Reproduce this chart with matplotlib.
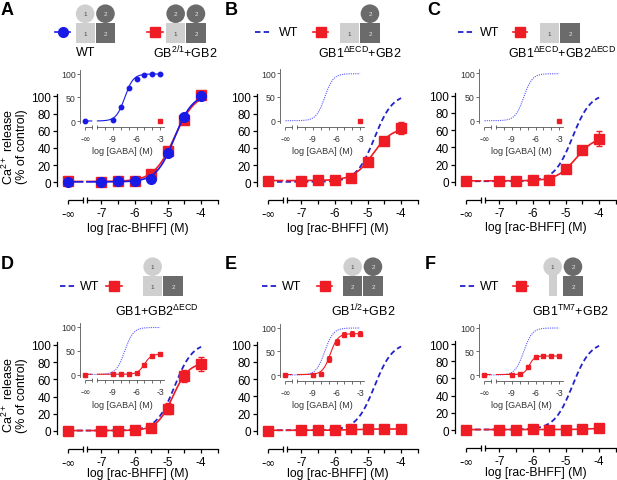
import numpy as np
import matplotlib
matplotlib.use("Agg")
import matplotlib.pyplot as plt
from matplotlib.patches import Circle, Rectangle

plt.rcParams['font.family'] = ['Liberation Sans', 'DejaVu Sans']
plt.rcParams['axes.unicode_minus'] = False

W, H = 617, 481
RED = '#ee1c24'
BLUE = '#1a1ae6'
WT_DASH = '#2222cc'
LIGHT = '#cfcfcf'
DARK = '#6b6b6b'

# -inf is plotted at these positions
NEG_INF_MAIN = -8.0
NEG_INF_INSET = -12.5

# rac-BHFF concentrations (log M), first entry = -inf
bhff_x = [NEG_INF_MAIN, -7, -6.5, -6, -5.5, -5, -4.5, -4]
# GABA concentrations (log M), first entry = -inf
gaba_x = [NEG_INF_INSET, -9, -8, -7, -6, -5, -4, -3]

# main data (% of control)
wt_main = [0.5, 0.5, 1, 1.5, 4, 34, 76, 100]
gb21_main = [1, 0.5, 1, 2, 10, 36, 72, 102]
b_main = [1, 1.5, 2.5, 2.5, 4.5, 24, 48, 63]
b_err = [1, 1, 1.5, 1.5, 1.5, 3, 4, 7]
c_main = [0.5, 0.5, 1, 1.5, 1.5, 15, 37, 50]
c_err = [0.5, 0.5, 0.5, 1, 1, 2, 5, 9]
d_main = [0, 0.5, 0.5, 1, 3.5, 26, 64, 78]
d_err = [0.5, 0.5, 0.5, 0.5, 1, 6, 7, 8]
e_main = [0, 0.5, 1, 1, 1.5, 2, 1.5, 1.5]
e_err = [0.5, 0.5, 0.5, 0.5, 0.5, 0.5, 0.5, 0.5]
f_main = [0.5, 0.5, 0.5, 1, 0.5, 0.5, 1, 2]
f_err = [0.5, 0.5, 0.5, 0.5, 0.5, 0.5, 0.5, 0.5]

# inset data (GABA response)
wt_inset = [0, 3, 30, 70, 89, 96, 98, 99]
gaba_max_x = [-3]
gaba_max_y = [0]
d_inset = [0, 1, 1, 1, 4, 19, 40, 43]
d_inset_err = [0.5, 0.5, 0.5, 0.5, 1, 3, 4, 4]
e_inset = [1, 1, 3, 34, 69, 85, 87, 87]
e_inset_err = [0.5, 0.5, 1, 6, 6, 6, 5, 5]
f_inset = [1, 1, 1.5, 16, 38, 41, 41, 41]
f_inset_err = [0.5, 0.5, 0.5, 2, 3, 3, 3, 3]

# Hill fits: bottom, top, logEC50, slope
fit_wt = (0.5, 103, -4.8, 1.6)
fit_gb21 = (1, 104, -4.8, 1.4)
fit_b = (2, 64, -4.85, 1.5)
fit_c = (1, 53, -4.7, 1.5)
fit_d = (0.5, 80, -4.85, 1.8)
fit_e = (0.5, 2, -5.5, 1.5)
fit_f = (0.5, 2.5, -4.2, 1.5)
fit_wt_gaba = (0, 99, -7.5, 0.8)
fit_d_gaba = (0.5, 43, -5.0, 1.0)
fit_e_gaba = (1, 87, -6.8, 0.9)
fit_f_gaba = (1, 40, -6.8, 1.3)


def hill(x, p):
    bot, top, ec, n = p
    return bot + (top - bot) / (1 + 10 ** (n * (ec - x)))


def fit_xy(p, x0, x1, gap):
    x = np.linspace(x0, x1, 300)
    y = hill(x, p)
    y[(x > gap[0]) & (x < gap[1])] = np.nan
    return x, y


fig = plt.figure(figsize=(W / 100, H / 100), dpi=100)


def px_axes(left, top, w, h):
    return fig.add_axes([left / W, 1 - (top + h) / H, w / W, h / H])


MX = (-8.34, -3.45)
MY = (-21, 106)
MAIN_GAP = (-7.57, -7.45)
IX = (-13.2, -2.4)
IY = (-12.5, 110)
INSET_GAP = (-11.7, -11.0)


def wide_inf(ax):
    # the infinity sign of DejaVu is wider, closer to the original
    for lbl in ax.get_xticklabels():
        if '∞' in lbl.get_text():
            lbl.set_fontfamily('DejaVu Sans')


def main_axes(spine_x, zero_y, ylabel=False, xlabelpad=1):
    ax = px_axes(spine_x, zero_y - 106 * 0.86, 4.89 * 33.2, 127 * 0.86)
    ax.set_xlim(*MX)
    ax.set_ylim(*MY)
    ax.patch.set_alpha(0)
    for s in ['top', 'right']:
        ax.spines[s].set_visible(False)
    ax.spines['left'].set_bounds(-4, 103)
    ax.spines['bottom'].set_bounds(MAIN_GAP[1], -3.5)
    for s in ['left', 'bottom']:
        ax.spines[s].set_linewidth(0.9)
    ax.set_yticks([0, 20, 40, 60, 80, 100])
    ax.set_xticks([NEG_INF_MAIN, -7, -6, -5, -4])
    ax.set_xticklabels(['-∞', '-7', '-6', '-5', '-4'])
    ax.set_xticks([-6.5, -5.5, -4.5, -3.5], minor=True)
    ax.tick_params(which='both', direction='out', length=3, width=0.9,
                   labelsize=8.5, pad=1.5)
    ax.tick_params(axis='x', which='both', pad=2)
    wide_inf(ax)
    ax.plot([NEG_INF_MAIN, MAIN_GAP[0]], [MY[0], MY[0]], color='black',
            lw=0.9, clip_on=False, solid_capstyle='butt')
    ax.plot(list(MAIN_GAP), [MY[0], MY[0]], ls='none', marker='|', ms=5,
            mew=0.9, color='black', clip_on=False)
    ax.set_xlabel('log [rac-BHFF] (M)', fontsize=8.8, labelpad=xlabelpad)
    if ylabel:
        ax.set_ylabel('Ca$^{\\mathregular{2+}}$ release\n(% of control)',
                      fontsize=9, labelpad=2, linespacing=1.0)
    return ax


def inset_axes(spine_x, zero_y):
    ax = px_axes(spine_x, zero_y - 110 * 0.475, 10.8 * 7.85, 122.5 * 0.475)
    ax.set_xlim(*IX)
    ax.set_ylim(*IY)
    ax.patch.set_alpha(0)
    for s in ['top', 'right']:
        ax.spines[s].set_visible(False)
    ax.spines['left'].set_bounds(-5, 108)
    ax.spines['bottom'].set_bounds(INSET_GAP[1], -2.5)
    for s in ['left', 'bottom']:
        ax.spines[s].set_linewidth(0.6)
        ax.spines[s].set_color('#555555')
    ax.set_yticks([0, 50, 100])
    ax.set_xticks([NEG_INF_INSET, -9, -6, -3])
    ax.set_xticklabels(['-∞', '-9', '-6', '-3'])
    ax.set_xticks([-10, -8, -7, -5, -4], minor=True)
    ax.tick_params(which='both', direction='out', length=2, width=0.6,
                   color='#555555', labelsize=6.3, pad=1.2, labelcolor='#333333')
    ax.tick_params(axis='x', which='both', pad=3)
    wide_inf(ax)
    ax.plot([NEG_INF_INSET, INSET_GAP[0]], [IY[0], IY[0]], color='#555555',
            lw=0.6, clip_on=False, solid_capstyle='butt')
    ax.plot(list(INSET_GAP), [IY[0], IY[0]], ls='none', marker='|', ms=3.5,
            mew=0.6, color='#555555', clip_on=False)
    ax.set_xlabel('log [GABA] (M)', fontsize=6.5, labelpad=2.5, color='#333333')
    return ax


def wt_dashed(ax):
    x, y = fit_xy(fit_wt, NEG_INF_MAIN, -4, (0, 0))
    ax.plot(x, y, color=WT_DASH, lw=1.3, dashes=(3, 1.8), zorder=3)


def wt_dotted(ax):
    x, y = fit_xy(fit_wt_gaba, NEG_INF_INSET, -3, (0, 0))
    ax.plot(x, y, color='#5a5aff', lw=0.8, ls=(0, (1, 1)), zorder=2)


def red_main(ax, yv, err, p):
    x, y = fit_xy(p, NEG_INF_MAIN, -4, MAIN_GAP)
    ax.plot(x, y, color=RED, lw=1.2, zorder=4)
    ax.errorbar(bhff_x, yv, yerr=err, fmt='s', color=RED, ms=7, capsize=2.5,
                elinewidth=1, capthick=1, zorder=5, clip_on=False)


def red_inset(ax, yv, err, p):
    x, y = fit_xy(p, NEG_INF_INSET, -3, INSET_GAP)
    ax.plot(x, y, color=RED, lw=0.8, zorder=4)
    ax.errorbar(gaba_x, yv, yerr=err, fmt='s', color=RED, ms=3.2, capsize=1.5,
                elinewidth=0.7, capthick=0.7, zorder=5, clip_on=False)


# ---- A
ax = main_axes(57, 183.3, ylabel=True)
x, y = fit_xy(fit_gb21, NEG_INF_MAIN, -4, MAIN_GAP)
ax.plot(x, y, color=RED, lw=1.2, zorder=3)
ax.plot(bhff_x, gb21_main, 's', color=RED, ms=7, zorder=4, clip_on=False)
x, y = fit_xy(fit_wt, NEG_INF_MAIN, -4, MAIN_GAP)
ax.plot(x, y, color=BLUE, lw=1.2, zorder=5)
ax.plot(bhff_x, wt_main, 'o', color=BLUE, ms=7, zorder=6, clip_on=False)
ia = inset_axes(80, 122)
x, y = fit_xy(fit_wt_gaba, NEG_INF_INSET, -3, INSET_GAP)
ia.plot(x, y, color=BLUE, lw=0.8)
ia.plot(gaba_x, wt_inset, 'o', color=BLUE, ms=3.2, clip_on=False)
ia.plot(gaba_max_x, gaba_max_y, 's', color=RED, ms=3.2, clip_on=False)

# ---- B
ax = main_axes(257, 183.3)
wt_dashed(ax)
red_main(ax, b_main, b_err, fit_b)
ia = inset_axes(280, 121.7)
wt_dotted(ia)
ia.plot(gaba_max_x, gaba_max_y, 's', color=RED, ms=3.2, clip_on=False)

# ---- C
ax = main_axes(455, 182.7)
wt_dashed(ax)
red_main(ax, c_main, c_err, fit_c)
ia = inset_axes(479, 121.7)
wt_dotted(ia)
ia.plot(gaba_max_x, gaba_max_y, 's', color=RED, ms=3.2, clip_on=False)

# ---- D
ax = main_axes(57, 432, ylabel=True, xlabelpad=-1.5)
wt_dashed(ax)
red_main(ax, d_main, d_err, fit_d)
ia = inset_axes(80, 375.5)
wt_dotted(ia)
red_inset(ia, d_inset, d_inset_err, fit_d_gaba)

# ---- E
ax = main_axes(257, 431.7, xlabelpad=-1.5)
wt_dashed(ax)
red_main(ax, e_main, e_err, fit_e)
ia = inset_axes(280, 376)
wt_dotted(ia)
red_inset(ia, e_inset, e_inset_err, fit_e_gaba)

# ---- F
ax = main_axes(455, 431, xlabelpad=-1.5)
wt_dashed(ax)
red_main(ax, f_main, f_err, fit_f)
ia = inset_axes(479, 376)
wt_dotted(ia)
red_inset(ia, f_inset, f_inset_err, fit_f_gaba)

# ---- overlay: letters, legends, receptor cartoons (pixel coordinates)
ov = fig.add_axes([0, 0, 1, 1])
ov.set_xlim(0, W)
ov.set_ylim(H, 0)
ov.axis('off')
ov.patch.set_alpha(0)

SQ = 19.3
R = 9.3


def cartoon(left, top, squares, circles, stem=None):
    for i, kind in enumerate(squares):
        x0 = left + i * (SQ + 1)
        if kind is None:
            continue
        col = LIGHT if kind == '1' else DARK
        ov.add_patch(Rectangle((x0, top), SQ, SQ + 0.5, color=col, lw=0))
        ov.text(x0 + SQ / 2, top + SQ / 2 + 0.5, kind, fontsize=4.5,
                ha='center', va='center',
                color='#444444' if kind == '1' else '#e6e6e6')
    if stem is not None:
        cx = left + stem * (SQ + 1) + SQ / 2
        ov.add_patch(Rectangle((cx - 4, top - 2), 8, SQ + 2.5, color=LIGHT, lw=0))
    for i, kind in enumerate(circles):
        if kind is None:
            continue
        cx = left + i * (SQ + 1) + SQ / 2
        col = LIGHT if kind == '1' else DARK
        ov.add_patch(Circle((cx, top - R), R, color=col, lw=0))
        ov.text(cx, top - R, kind, fontsize=4.5, ha='center', va='center',
                color='#444444' if kind == '1' else '#e6e6e6')


def handle_red(x0, x1, y):
    ov.plot([x0, x1], [y, y], color=RED, lw=1.2)
    ov.plot([(x0 + x1) / 2], [y], 's', color=RED, ms=7)


def handle_wt(x0, x1, y, tx):
    ov.plot([x0, x1], [y, y], color=WT_DASH, lw=1.3, dashes=(3, 1.8))
    ov.text(tx, y, 'WT', fontsize=9, ha='left', va='center')


letters = [('A', 1, 2), ('B', 225, 2), ('C', 427, 2),
           ('D', 1, 256), ('E', 225, 256), ('F', 425, 256)]
for s, lx, ly in letters:
    ov.text(lx, ly, s, fontsize=13, fontweight='bold', ha='left', va='top')

# A
ov.plot([55, 70], [33, 33], color=BLUE, lw=1.2)
ov.plot([62.5], [33], 'o', color=BLUE, ms=7)
cartoon(75.5, 24, ['1', '2'], ['1', '2'])
ov.text(86, 53, 'WT', fontsize=9, ha='center', va='center')
handle_red(147, 163, 33)
cartoon(166, 24, ['1', '2'], ['2', '2'])
ov.text(185, 53, 'GB$^{\\mathregular{2/1}}$+GB2', fontsize=9, ha='center', va='center')

# B
handle_wt(255, 272, 33, 279)
handle_red(313, 328, 33)
cartoon(340, 24, ['1', '2'], [None, '2'])
ov.text(360, 53, 'GB1$^{\\mathregular{ΔECD}}$+GB2', fontsize=9, ha='center', va='center')

# C
handle_wt(458, 475, 33, 480)
handle_red(513, 527, 33)
cartoon(540, 24, ['1', '2'], [])
ov.text(562, 53, 'GB1$^{\\mathregular{ΔECD}}$+GB2$^{\\mathregular{ΔECD}}$',
        fontsize=9, ha='center', va='center')

# D
handle_wt(60, 75, 287, 80)
handle_red(106, 122, 287)
cartoon(143, 277, ['1', '2'], ['1', None])
ov.text(157, 311, 'GB1+GB2$^{\\mathregular{ΔECD}}$', fontsize=9, ha='center', va='center')

# E
handle_wt(262, 277, 287, 282)
handle_red(317, 332, 287)
cartoon(343, 277, ['2', '2'], ['1', '2'])
ov.text(363, 311, 'GB$^{\\mathregular{1/2}}$+GB2', fontsize=9, ha='center', va='center')

# F
handle_wt(460, 475, 287, 480)
handle_red(513, 528, 287)
cartoon(543, 277, [None, '2'], ['1', '2'], stem=0)
ov.text(570, 311, 'GB1$^{\\mathregular{TM7}}$+GB2', fontsize=9, ha='center', va='center')

fig.savefig('out.png', dpi=100)
